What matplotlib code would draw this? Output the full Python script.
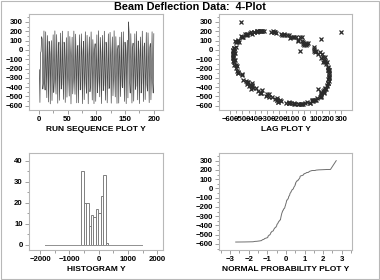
import numpy as np
import matplotlib
matplotlib.use("Agg")
import matplotlib.pyplot as plt
from matplotlib.patches import Rectangle
from matplotlib.ticker import MultipleLocator, FixedLocator
from statistics import NormalDist

plt.rcParams['font.family'] = ['Liberation Sans', 'DejaVu Sans']
plt.rcParams['font.weight'] = 'bold'

y = np.array([
    -213, -564, -35, -15, 141, 115, -420, -360, 203, -338,
    -431, 194, -220, -513, 154, -125, -559, 92, -21, -579,
    -52, 99, -543, -175, 162, -457, -346, 204, -300, -474,
    164, -107, -572, -8, 83, -541, -224, 180, -420, -374,
    201, -236, -531, 83, 27, -564, -112, 131, -507, -254,
    199, -311, -495, 143, -46, -579, -90, 136, -472, -338,
    202, -287, -477, 169, -124, -568, 17, 48, -568, -135,
    162, -430, -422, 172, -74, -577, -13, 92, -534, -243,
    194, -355, -465, 156, -81, -578, -64, 139, -449, -384,
    193, -198, -538, 110, -44, -577, -6, 66, -552, -164,
    161, -460, -344, 205, -281, -504, 134, -28, -576, -118,
    156, -437, -381, 200, -220, -540, 83, 11, -568, -160,
    172, -414, -408, 188, -125, -572, -32, 139, -492, -321,
    205, -262, -504, 142, -83, -574, 0, 48, -571, -106,
    137, -501, -266, 190, -391, -406, 194, -186, -553, 83,
    -13, -577, -49, 103, -515, 300, 194, -351, -463, 174,
    -125, -570, 15, 72, -550, -190, 172, -424, -385, 198,
    -218, -536, 96, -7, -576, -80, 138, -462, -361, 201,
    -211, -554, 32, 74, -533, -235, 187, -372, -442, 182,
    -147, -566, 25, 68, -535, -244, 194, -351, -463, 174,
], dtype=float)

lag_ticks = [-600, -500, -400, -300, -200, -100, 0, 100, 200, 300]

n = len(y)
idx = np.arange(1, n + 1)

W, H = 380, 280
fig = plt.figure(figsize=(W / 100, H / 100), dpi=100)
fig.patches.append(Rectangle((0.002, 0.002), 0.996, 0.994, transform=fig.transFigure,
                             fill=False, edgecolor='#b8b8b8', linewidth=0.8))

def make_ax(l, t, r, b):
    ax = fig.add_axes([l / W, 1 - b / H, (r - l) / W, (b - t) / H])
    for s in ax.spines.values():
        s.set_color('#b8b8b8')
        s.set_linewidth(0.8)
    ax.tick_params(which='both', direction='out', colors='#909090', labelcolor='black',
                   labelsize=5.6, pad=1.5, width=0.6)
    ax.tick_params(which='major', length=3)
    ax.tick_params(which='minor', length=1.8)
    return ax

lab = dict(fontsize=6.0, fontweight='bold', labelpad=2)

# run sequence plot
ax1 = make_ax(29, 14, 163, 110)
ax1.plot(idx, y, color='#4a4a4a', linewidth=0.5)
ax1.set_xlim(-17, 216)
ax1.set_ylim(-645, 385)
ax1.xaxis.set_major_locator(MultipleLocator(50))
ax1.xaxis.set_minor_locator(MultipleLocator(25))
ax1.yaxis.set_major_locator(MultipleLocator(100))
ax1.yaxis.set_minor_locator(MultipleLocator(50))
ax1.set_xlabel('RUN SEQUENCE PLOT Y', **lab)

# lag plot
ax2 = make_ax(219, 14, 352, 110)
ax2.plot(y[:-1], y[1:], linestyle='none', marker='x', markersize=3,
         markeredgewidth=0.9, color='#2a2a2a')
ax2.set_xlim(-690, 390)
ax2.set_ylim(-645, 385)
ax2.xaxis.set_major_locator(FixedLocator(lag_ticks))
ax2.xaxis.set_minor_locator(FixedLocator([t + 50 for t in lag_ticks[:-1]]))
ax2.yaxis.set_major_locator(MultipleLocator(100))
ax2.yaxis.set_minor_locator(MultipleLocator(50))
ax2.set_xlabel('LAG PLOT Y', **lab)

# histogram, class width 0.3 sd over mean +/- 6 sd
mean, sd = y.mean(), y.std(ddof=1)
w = 0.3 * sd
edges = np.arange(mean - 6 * sd, mean + 6 * sd + w / 2, w)
counts, _ = np.histogram(y, bins=edges)
ax3 = make_ax(29, 153, 163, 250)
ax3.plot([mean - 6 * sd, mean + 6 * sd], [0, 0], color='#909090', linewidth=0.7)
nz = counts > 0
ax3.bar(edges[:-1][nz], counts[nz], width=w, align='edge', facecolor='none',
        edgecolor='#808080', linewidth=0.7)
ax3.set_xlim(-2380, 2200)
ax3.set_ylim(-2.5, 43.7)
ax3.xaxis.set_major_locator(MultipleLocator(1000))
ax3.xaxis.set_minor_locator(MultipleLocator(500))
ax3.yaxis.set_major_locator(MultipleLocator(10))
ax3.yaxis.set_minor_locator(MultipleLocator(5))
ax3.set_xlabel('HISTOGRAM Y', **lab)

# normal probability plot (order statistic medians)
p = (idx - 0.3175) / (n + 0.365)
p[-1] = 0.5 ** (1 / n)
p[0] = 1 - p[-1]
q = np.array([NormalDist().inv_cdf(v) for v in p])
ax4 = make_ax(219, 153, 352, 250)
ax4.plot(q, np.sort(y), color='#707070', linewidth=0.7)
ax4.set_xlim(-3.6, 3.55)
ax4.set_ylim(-665, 383)
ax4.xaxis.set_major_locator(MultipleLocator(1))
ax4.xaxis.set_minor_locator(MultipleLocator(0.5))
ax4.yaxis.set_major_locator(MultipleLocator(100))
ax4.yaxis.set_minor_locator(MultipleLocator(50))
ax4.set_xlabel('NORMAL PROBABILITY PLOT Y', **lab)

fig.text(0.5, 1 - 7 / H, 'Beam Deflection Data:  4-Plot', ha='center', va='center',
         fontsize=7.8, fontweight='bold')

fig.savefig('out.png', dpi=100)
